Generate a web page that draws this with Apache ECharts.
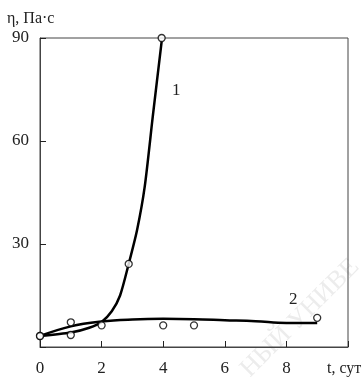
<!DOCTYPE html>
<html>
<head>
<meta charset="utf-8">
<script src="https://cdn.jsdelivr.net/npm/echarts@6/dist/echarts.min.js"></script>
<style>
  html, body { margin: 0; padding: 0; background: #fff; }
  #chart { width: 362px; height: 377px; }
</style>
</head>
<body>
<div id="chart"></div>
<script>
// measured points (hollow circles)
const points1 = [[0, 3.2], [1, 3.5], [2, 6.3], [2.88, 24.2], [3.95, 90]];
const points2 = [[0, 3.2], [1, 7.2], [4, 6.3], [5, 6.3], [9, 8.5]];
// fitted curves
const curve1 = [[0, 3.2], [1, 4.2], [1.6, 5.6], [2, 7.3], [2.33, 10.4], [2.6, 15],
  [2.88, 24.2], [3.15, 34], [3.4, 46.7], [3.66, 67], [3.95, 89]];
const curve2 = [[0, 3.2], [1, 6], [2, 7.4], [3, 8], [4, 8.2], [5, 8.1], [6, 7.8],
  [7, 7.5], [8, 7], [9, 7]];
const xTicks = [0, 2, 4, 6, 8];
const yTicks = [30, 60, 90];

const chartDom = document.getElementById("chart");
const myChart = echarts.init(chartDom);
const serif = "Liberation Serif";

const option = {
  animation: false,
  grid: {
    left: 40,
    top: 38,
    right: 14,
    bottom: 29,
    show: true,
    borderColor: "#444",
    borderWidth: 1,
  },
  xAxis: {
    type: "value",
    min: 0,
    max: 10,
    interval: 2,
    axisLine: { lineStyle: { color: "#444", width: 1 } },
    axisTick: { inside: true, length: 6, lineStyle: { color: "#222" } },
    axisLabel: {
      color: "#222",
      fontFamily: serif,
      fontSize: 17,
      margin: 13,
      formatter: (v) => (xTicks.includes(v) ? String(v) : ""),
    },
    splitLine: { show: false },
  },
  yAxis: {
    type: "value",
    min: 0,
    max: 90,
    interval: 30,
    axisLine: { show: true, lineStyle: { color: "#444", width: 1 } },
    axisTick: { show: true, inside: true, length: 6, lineStyle: { color: "#222" } },
    axisLabel: {
      color: "#222",
      fontFamily: serif,
      fontSize: 17,
      margin: 11,
      formatter: (v) => (yTicks.includes(v) ? String(v) : ""),
    },
    splitLine: { show: false },
  },
  graphic: [
    {
      type: "text",
      left: 7,
      top: 11,
      style: { text: "η, Па·с", font: "16px " + serif, fill: "#222" },
    },
    {
      type: "text",
      left: 327,
      top: 361,
      style: { text: "t, сут", font: "16px " + serif, fill: "#222" },
    },
    {
      type: "text",
      left: 172,
      top: 82,
      style: { text: "1", font: "17px " + serif, fill: "#222" },
    },
    {
      type: "text",
      left: 289,
      top: 291,
      style: { text: "2", font: "17px " + serif, fill: "#222" },
    },
    {
      type: "text",
      x: 300,
      y: 318,
      rotation: Math.PI / 4,
      z: -10,
      style: {
        text: "НЫЙ УНИВЕ",
        font: "26px " + serif,
        fill: "#ececec",
        align: "center",
        verticalAlign: "middle",
      },
    },
  ],
  series: [
    {
      type: "line",
      data: curve1,
      smooth: 0.25,
      showSymbol: false,
      lineStyle: { color: "#000", width: 2.5 },
    },
    {
      type: "line",
      data: curve2,
      smooth: 0.4,
      showSymbol: false,
      lineStyle: { color: "#000", width: 2.5 },
    },
    {
      type: "scatter",
      data: points1,
      symbol: "circle",
      symbolSize: 7,
      itemStyle: { color: "#fff", borderColor: "#000", borderWidth: 1.3 },
      z: 5,
    },
    {
      type: "scatter",
      data: points2,
      symbol: "circle",
      symbolSize: 7,
      itemStyle: { color: "#fff", borderColor: "#000", borderWidth: 1.3 },
      z: 5,
    },
  ],
};

myChart.setOption(option);
</script>
</body>
</html>
